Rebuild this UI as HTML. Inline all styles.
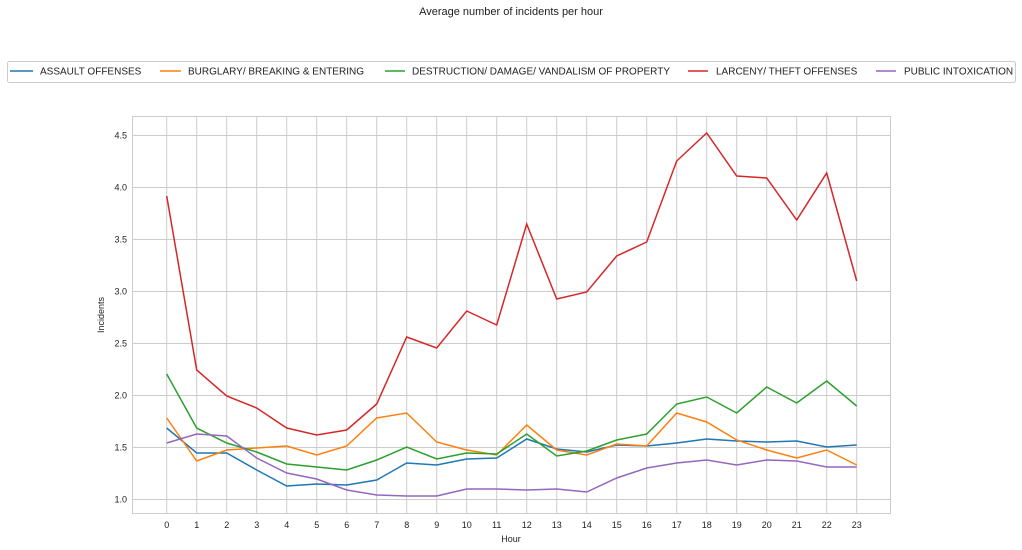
<!DOCTYPE html>
<html><head><meta charset="utf-8"><style>
body{margin:0;background:#fff;}
svg{display:block;font-family:"Liberation Sans",Arial,sans-serif;}
</style></head><body>
<svg id="s" width="1022" height="550" xmlns="http://www.w3.org/2000/svg">
<text x="511" y="15" font-size="11" text-anchor="middle" fill="#222">Average number of incidents per hour</text>
<rect x="7.5" y="61.5" width="1008" height="21" rx="2" fill="#fff" stroke="#ccc"/>
<line x1="10" y1="71" x2="33" y2="71" stroke="#1f77b4" stroke-width="1.5"/><text x="40" y="74.5" font-size="10" fill="#222">ASSAULT OFFENSES</text>
<line x1="160" y1="71" x2="181" y2="71" stroke="#ff7f0e" stroke-width="1.5"/><text x="188" y="74.5" font-size="10" fill="#222">BURGLARY/ BREAKING &amp; ENTERING</text>
<line x1="385" y1="71" x2="405" y2="71" stroke="#2ca02c" stroke-width="1.5"/><text x="412" y="74.5" font-size="10" fill="#222">DESTRUCTION/ DAMAGE/ VANDALISM OF PROPERTY</text>
<line x1="688" y1="71" x2="708" y2="71" stroke="#d62728" stroke-width="1.5"/><text x="716" y="74.5" font-size="10" fill="#222">LARCENY/ THEFT OFFENSES</text>
<line x1="876" y1="71" x2="896" y2="71" stroke="#9467bd" stroke-width="1.5"/><text x="904" y="74.5" font-size="10" fill="#222">PUBLIC INTOXICATION</text>
<g id="grid"></g>
<rect x="132.5" y="116.5" width="758" height="397" fill="none" stroke="#ccc"/>
<text x="511" y="542" font-size="9" text-anchor="middle" fill="#222">Hour</text>
<text transform="translate(104,315) rotate(-90)" font-size="9" text-anchor="middle" fill="#222">Incidents</text>
<g id="lines"></g>
</svg>
<script>
var ns="http://www.w3.org/2000/svg",g=document.getElementById("grid"),L=document.getElementById("lines");
function el(p,t,a,txt){var e=document.createElementNS(ns,t);for(var k in a)e.setAttribute(k,a[k]);if(txt)e.textContent=txt;p.appendChild(e);return e;}
function X(i){return 166.7+i*30;}
for(var i=0;i<24;i++){el(g,"line",{x1:X(i),x2:X(i),y1:116.5,y2:513.5,stroke:"#ccc"});el(g,"text",{x:X(i),y:528,"font-size":9,"text-anchor":"middle",fill:"#222"},""+i);}
for(var v=1;v<=4.5;v+=0.5){var y=499.5-(v-1)*104;el(g,"line",{x1:132.5,x2:890.5,y1:y,y2:y,stroke:"#ccc"});el(g,"text",{x:127,y:y+3,"font-size":9,"text-anchor":"end",fill:"#222"},v.toFixed(1));}
var D=[
["#1f77b4",[428,453,453,470,486,484,485,480,463,465,459,458,439,449,452,445,446,443,439,441,442,441,447,445]],
["#ff7f0e",[418,461,450,448,446,455,446,418,413,442,450,455,425,450,455,444,446,413,422,440,450,458,450,465]],
["#2ca02c",[374,428,443,452,464,467,470,460,447,459,453,454,434,456,451,440,434,404,397,413,387,403,381,406]],
["#d62728",[196,370,396,408,428,435,430,404,337,348,311,325,224,299,292,256,242,161,133,176,178,220,173,281]],
["#9467bd",[443,434,436,458,473,479,490,495,496,496,489,489,490,489,492,478,468,463,460,465,460,461,467,467]]];
D.forEach(function(d){el(L,"polyline",{points:d[1].map(function(y,i){return X(i)+","+y;}).join(" "),fill:"none",stroke:d[0],"stroke-width":1.5});});
</script>
</body></html>
